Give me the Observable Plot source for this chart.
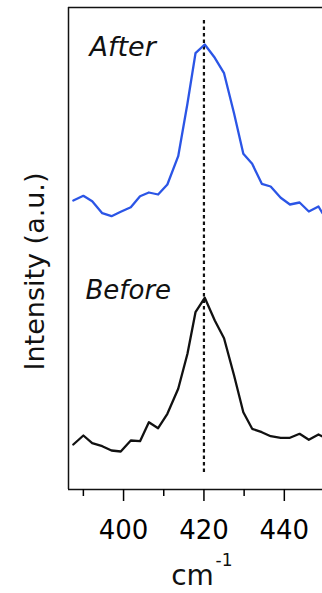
<!DOCTYPE html>
<html>
<head>
<meta charset="utf-8">
<script src="https://cdn.jsdelivr.net/npm/d3@7"></script>
<script src="https://cdn.jsdelivr.net/npm/@observablehq/plot@0.6"></script>
<style>
  html, body { margin: 0; padding: 0; background: #fff; }
  #chart svg { display: block; }
</style>
</head>
<body>
<div id="chart"></div>
<script>
// Raman shift (cm^-1)
const wavenumber = [387.5, 390.0, 392.2, 394.7, 397.0, 399.3, 401.8, 404.1, 406.3, 408.6,
                    410.9, 413.6, 415.9, 417.9, 420.2, 422.7, 425.0, 427.5, 429.8, 432.0,
                    434.4, 436.6, 439.1, 441.4, 443.8, 446.1, 448.5, 449.5];
// Intensity (a.u., offset traces)
const afterIntensity = [289, 293.7, 288.3, 276.3, 273.3, 277.7, 282.3, 293.3, 297, 295,
                        305, 333.3, 386, 436.3, 445, 431.7, 416.3, 376, 335.7, 325.7,
                        305.7, 303, 291.7, 285, 287, 278, 283, 276.3];
const beforeIntensity = [45, 54, 46.3, 43.3, 39, 38, 49, 48.3, 67.3, 61.3,
                         75.7, 100.7, 135.7, 177.3, 191.7, 169, 151.3, 114, 77.3, 60.7,
                         57.3, 53.3, 51.7, 51.7, 55.7, 49.7, 55, 53];
const peakPosition = [420];
const majorTicks = [400, 420, 440];
const minorTicks = [390, 410, 430];
const xDomain = [386.3, 449.5];
const yDomain = [0, 482];
const seriesLabels = ["After", "Before"];
const yLabel = "Intensity (a.u.)";
const xLabelUnit = "cm";
const xLabelExp = "-1";

const afterData = wavenumber.map((w, i) => ({w, v: afterIntensity[i]}));
const beforeData = wavenumber.map((w, i) => ({w, v: beforeIntensity[i]}));

const font = "'DejaVu Sans', Verdana, sans-serif";

const chart = Plot.plot({
  width: 322,
  height: 593,
  marginLeft: 68,
  marginRight: 0,
  marginTop: 7,
  marginBottom: 104,
  x: {domain: xDomain},
  y: {domain: yDomain, axis: null},
  style: {fontFamily: font, color: "black", background: "white"},
  marks: [
    Plot.ruleY(yDomain, {stroke: "#111", strokeWidth: 1.5}),
    Plot.ruleX([xDomain[0]], {stroke: "#111", strokeWidth: 1.5}),
    Plot.axisX(majorTicks, {tickSize: 12, tickPadding: 19, fontSize: 26, strokeWidth: 1.5, label: null, tickFormat: d => String(d)}),
    Plot.axisX(minorTicks, {tickSize: 7, strokeWidth: 1.5, label: null, tickFormat: () => ""}),
    Plot.ruleX(peakPosition, {stroke: "#111", strokeWidth: 2.2, strokeDasharray: "3.5,3", insetTop: 13, insetBottom: 17}),
    Plot.line(afterData, {x: "w", y: "v", stroke: "#2b55e6", strokeWidth: 2.3, clip: true}),
    Plot.line(beforeData, {x: "w", y: "v", stroke: "#111", strokeWidth: 2.3, clip: true}),
    Plot.text([seriesLabels[0]], {frameAnchor: "top-left", textAnchor: "start", lineAnchor: "top", dx: 21, dy: 29, fontSize: 27, fontStyle: "italic", fill: "#111"}),
    Plot.text([seriesLabels[1]], {frameAnchor: "top-left", textAnchor: "start", lineAnchor: "top", dx: 17, dy: 273, fontSize: 26, fontStyle: "italic", fill: "#111"}),
    Plot.text([yLabel], {frameAnchor: "left", rotate: -90, textAnchor: "start", lineAnchor: "middle", dx: -33, dy: 122, fontSize: 27, fill: "#111"}),
    Plot.text([xLabelUnit], {frameAnchor: "bottom", textAnchor: "middle", lineAnchor: "top", dx: -3, dy: 76, fontSize: 28, fill: "#111"}),
    Plot.text([xLabelExp], {frameAnchor: "bottom", textAnchor: "start", lineAnchor: "top", dx: 20, dy: 64, fontSize: 17, fill: "#111"})
  ]
});
document.getElementById("chart").appendChild(chart);
</script>
</body>
</html>
